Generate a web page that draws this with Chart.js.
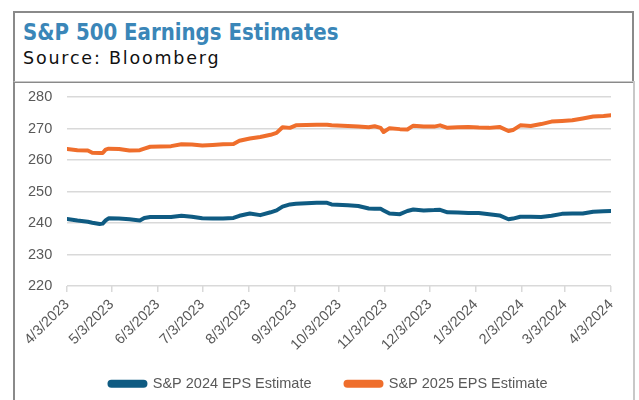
<!DOCTYPE html>
<html>
<head>
<meta charset="utf-8">
<script src="https://cdn.jsdelivr.net/npm/chart.js@4/dist/chart.umd.min.js"></script>
<style>
  html, body { margin: 0; padding: 0; background: #ffffff; width: 639px; height: 400px; overflow: hidden; }
  #titleBox {
    position: absolute; left: 13px; top: 11px; width: 617px; height: 68px;
    border: 2px solid #8a8a8a; background: #fff;
  }
  #title {
    position: absolute; left: 8px; top: 6px; margin: 0;
    font-family: "DejaVu Sans", sans-serif;
    font-weight: bold; font-size: 23px; color: #3a86b8;
    white-space: nowrap; transform-origin: left top; transform: scaleX(0.86);
  }
  #source {
    position: absolute; left: 8px; top: 35px; margin: 0;
    font-family: "DejaVu Sans", Verdana, sans-serif; font-size: 17.5px; color: #111;
    white-space: nowrap; letter-spacing: 1.8px;
  }
  #chartBox {
    position: absolute; left: 13px; top: 81px; width: 618px; height: 340px;
    border-left: 2px solid #8a8a8a; border-right: 2px solid #c8c8c8; border-top: 1px solid #c8c8c8;
  }
  #wrap { position: absolute; left: 0; top: 0; width: 618px; height: 319px; }
</style>
</head>
<body>
<div id="titleBox">
  <div id="title">S&amp;P 500 Earnings Estimates</div>
  <div id="source">Source: Bloomberg</div>
</div>
<div id="chartBox"><div id="wrap"><canvas id="c"></canvas></div></div>
<script>
// ---- Data ----
const dates = [
  "2023-04-03","2023-04-10","2023-04-17","2023-04-20","2023-04-25","2023-04-27","2023-04-29",
  "2023-05-01","2023-05-08","2023-05-15","2023-05-22","2023-05-25","2023-05-29",
  "2023-06-05","2023-06-12","2023-06-19","2023-06-26",
  "2023-07-03","2023-07-10","2023-07-17","2023-07-24","2023-07-28",
  "2023-08-04","2023-08-11","2023-08-18","2023-08-22","2023-08-26","2023-08-31",
  "2023-09-04","2023-09-11","2023-09-18","2023-09-25","2023-09-28",
  "2023-10-09","2023-10-16","2023-10-23","2023-10-27","2023-10-31",
  "2023-11-02","2023-11-06","2023-11-13","2023-11-18","2023-11-22","2023-11-29",
  "2023-12-06","2023-12-10","2023-12-15","2023-12-22","2023-12-29",
  "2024-01-05","2024-01-12","2024-01-19","2024-01-25","2024-01-28",
  "2024-02-02","2024-02-09","2024-02-16","2024-02-23",
  "2024-03-01","2024-03-08","2024-03-15","2024-03-22","2024-03-29","2024-04-03"
];
const eps2024 = [
  241.3,240.8,240.4,240.1,239.7,239.8,240.8,
  241.5,241.4,241.2,240.8,241.6,241.9,
  241.9,241.9,242.3,242.0,
  241.5,241.4,241.4,241.6,242.3,
  243.0,242.5,243.4,244.0,245.2,245.9,
  246.1,246.3,246.4,246.4,245.9,
  245.6,245.4,244.6,244.5,244.5,
  244.0,243.0,242.8,243.8,244.3,244.0,
  244.1,244.2,243.4,243.3,243.2,
  243.2,242.8,242.4,241.2,241.4,
  242.0,242.0,241.9,242.3,
  242.9,243.0,243.0,243.6,243.7,243.8
];
const eps2025 = [
  263.5,263.1,263.0,262.3,262.2,262.2,263.3,
  263.6,263.5,263.0,263.1,263.6,264.2,
  264.3,264.4,265.0,264.9,
  264.6,264.8,265.0,265.1,266.1,
  266.8,267.3,268.0,268.6,270.4,270.2,
  271.0,271.1,271.2,271.2,271.0,
  270.8,270.6,270.4,270.7,270.2,
  268.9,270.1,269.8,269.7,270.9,270.6,
  270.6,271.0,270.2,270.4,270.5,
  270.3,270.2,270.5,269.2,269.5,
  271.0,270.8,271.4,272.2,
  272.4,272.6,273.2,273.8,274.0,274.2
];
const tickDates = [
  "2023-04-03","2023-05-03","2023-06-03","2023-07-03","2023-08-03","2023-09-03","2023-10-03",
  "2023-11-03","2023-12-03","2024-01-03","2024-02-03","2024-03-03","2024-04-03"
];
const tickLabels = [
  "4/3/2023","5/3/2023","6/3/2023","7/3/2023","8/3/2023","9/3/2023","10/3/2023",
  "11/3/2023","12/3/2023","1/3/2024","2/3/2024","3/3/2024","4/3/2024"
];
const yTicks = [220, 230, 240, 250, 260, 270, 280];
const seriesNames = ["S&P 2024 EPS Estimate", "S&P 2025 EPS Estimate"];

// ---- Helpers ----
const DAY = 86400000;
const origin = Date.parse(dates[0] + "T00:00:00Z");
const toDay = s => Math.round((Date.parse(s + "T00:00:00Z") - origin) / DAY);
const tickDays = tickDates.map(toDay);
const pts = vals => dates.map((d, i) => ({ x: toDay(d), y: vals[i] }));

const BLUE = "#0f5b82", ORANGE = "#ef6e2c", GREY = "#595959", GRID = "#d9d9d9";
const FONT = { family: "'Liberation Sans', Arial, sans-serif", size: 14.5 };

const legendShift = {
  id: "legendShift",
  afterLayout(chart) { if (chart.legend) { chart.legend.left += 9; chart.legend.right += 9; } }
};

new Chart(document.getElementById("c"), {
  type: "line",
  data: {
    datasets: [
      { label: seriesNames[0], data: pts(eps2024), borderColor: BLUE, backgroundColor: BLUE,
        borderWidth: 4, pointRadius: 0, tension: 0, borderJoinStyle: "round", borderCapStyle: "round" },
      { label: seriesNames[1], data: pts(eps2025), borderColor: ORANGE, backgroundColor: ORANGE,
        borderWidth: 4, pointRadius: 0, tension: 0, borderJoinStyle: "round", borderCapStyle: "round" }
    ]
  },
  plugins: [legendShift],
  options: {
    responsive: true, maintainAspectRatio: false, animation: false,
    layout: { padding: { left: 13, right: 22, top: 15, bottom: 0 } },
    plugins: {
      legend: {
        position: "bottom",
        labels: { color: GREY, font: FONT, boxWidth: 36, boxHeight: 4, padding: 34,
                  useBorderRadius: true, borderRadius: 2 }
      },
      tooltip: { enabled: false }
    },
    scales: {
      x: {
        type: "linear", min: tickDays[0], max: tickDays[tickDays.length - 1],
        afterBuildTicks: s => { s.ticks = tickDays.map(v => ({ value: v })); },
        afterFit: s => { s.height = 56.5; s._computeLabelArea = () => undefined; },
        ticks: {
          autoSkip: false, maxRotation: 45, minRotation: 45, color: GREY, font: FONT, padding: 4,
          callback: (v) => { const i = tickDays.indexOf(v); return i >= 0 ? tickLabels[i] : ""; }
        },
        grid: { drawOnChartArea: false, drawTicks: true, tickLength: 6, color: GRID, lineWidth: 1.5 },
        border: { display: false }
      },
      y: {
        min: yTicks[0], max: yTicks[yTicks.length - 1],
        afterBuildTicks: s => { s.ticks = yTicks.map(v => ({ value: v })); },
        afterFit: s => { s.width = 39; },
        ticks: { color: GREY, font: FONT, padding: 0, crossAlign: "far" },
        grid: { color: GRID, lineWidth: 1.5, drawTicks: false },
        border: { display: false }
      }
    }
  }
});
</script>
</body>
</html>
